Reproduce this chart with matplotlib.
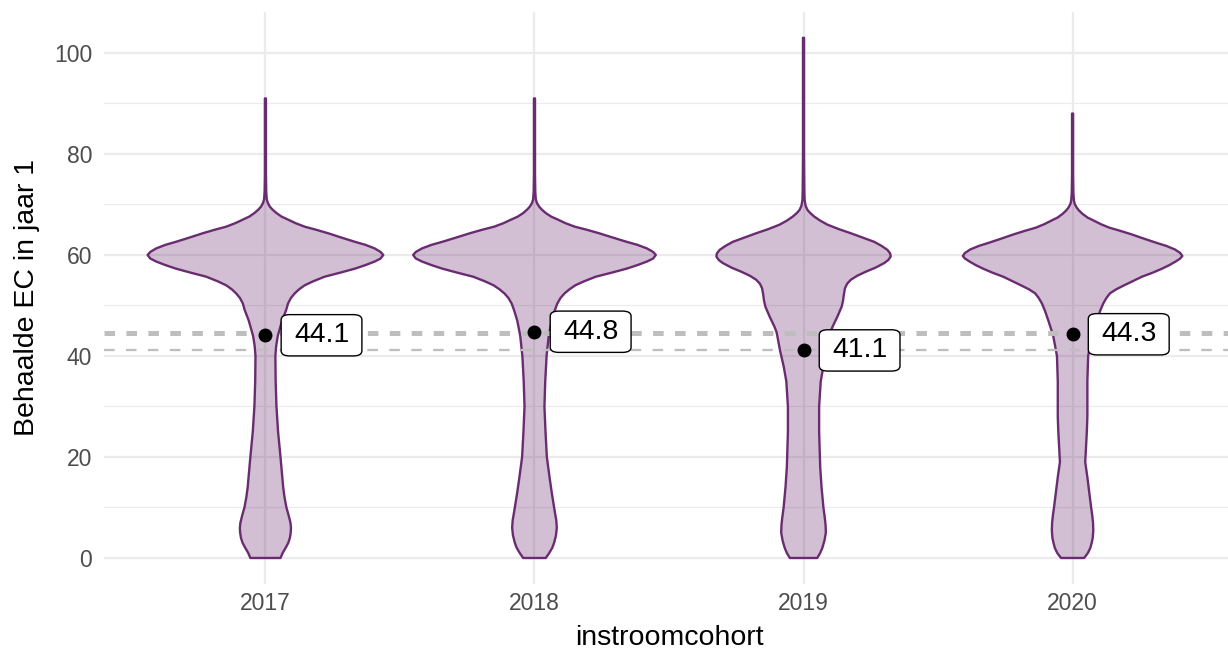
import matplotlib
matplotlib.use("Agg")
import matplotlib.pyplot as plt
from matplotlib.ticker import MultipleLocator

plt.rcParams['font.family'] = ['Liberation Sans', 'DejaVu Sans']
plt.rcParams['lines.scale_dashes'] = False

cohorts = ['2017', '2018', '2019', '2020']
means = [44.1, 44.8, 41.1, 44.3]
line_high = 44.5
line_low = 41.2

# violin outlines: y value -> half width (category units)
y_2017 = [0, 1, 2, 3, 4, 5, 6, 7, 8.5, 10, 12, 14, 17, 20, 25, 30, 35, 40, 42, 44, 47, 49.1,
          50.4, 51.5, 52.4, 53.2, 54, 54.8, 55.7, 56.5, 57.3, 58, 58.7, 59.3, 60, 60.6, 61.3,
          62, 62.6, 63.4, 64.3, 65, 65.6, 66.3, 67, 67.6, 68.3, 69, 69.6, 70.3, 71, 72.5, 76, 91]
w_2017 = [0.056, 0.064, 0.075, 0.085, 0.091, 0.094, 0.095, 0.093, 0.086, 0.078, 0.071, 0.066,
          0.061, 0.056, 0.047, 0.041, 0.038, 0.037, 0.040, 0.046, 0.062, 0.077, 0.084, 0.095,
          0.109, 0.125, 0.146, 0.178, 0.22, 0.278, 0.333, 0.372, 0.406, 0.428, 0.438, 0.428,
          0.406, 0.372, 0.333, 0.285, 0.233, 0.188, 0.146, 0.112, 0.084, 0.06, 0.041, 0.026,
          0.016, 0.009, 0.005, 0.003, 0.002, 0.002]

y_2018 = [0, 1, 2, 3, 4.5, 6, 7.5, 9, 11, 13, 16, 20, 25, 30, 35, 40, 44, 47, 49.1, 50.4,
          51.5, 52.4, 53.2, 54, 54.8, 55.7, 56.5, 57.3, 58, 58.7, 59.3, 60, 60.6, 61.3, 62,
          62.6, 63.4, 64.3, 65, 65.6, 66.3, 67, 67.6, 68.3, 69, 69.6, 70.3, 71, 72.5, 76, 91]
w_2018 = [0.042, 0.055, 0.066, 0.073, 0.080, 0.083, 0.081, 0.076, 0.070, 0.064, 0.056, 0.046,
          0.041, 0.037, 0.040, 0.045, 0.053, 0.064, 0.076, 0.085, 0.097, 0.112, 0.13, 0.152,
          0.185, 0.228, 0.287, 0.343, 0.383, 0.418, 0.441, 0.451, 0.441, 0.418, 0.383, 0.343,
          0.294, 0.24, 0.194, 0.15, 0.115, 0.087, 0.062, 0.042, 0.027, 0.017, 0.009, 0.005,
          0.003, 0.002, 0.002]

y_2019 = [0, 1, 2, 3.5, 5, 6.5, 8, 10, 14, 18, 25, 30, 35, 38, 41, 44.7, 45.8, 47.8, 49.8,
          51, 52.2, 53.4, 54.3, 55.1, 55.9, 56.7, 57.5, 58.4, 59, 59.7, 60.3, 61, 61.8, 62.6,
          63.4, 64.3, 65.1, 66, 66.8, 67.6, 68.3, 68.9, 69.7, 70.9, 73, 80, 103]
w_2019 = [0.051, 0.062, 0.070, 0.078, 0.083, 0.082, 0.079, 0.074, 0.067, 0.062, 0.058, 0.058,
          0.064, 0.074, 0.087, 0.10, 0.108, 0.126, 0.142, 0.147, 0.15, 0.154, 0.162, 0.176,
          0.2, 0.232, 0.268, 0.3, 0.315, 0.324, 0.322, 0.312, 0.29, 0.263, 0.222, 0.176, 0.132,
          0.089, 0.062, 0.04, 0.025, 0.015, 0.008, 0.004, 0.003, 0.002, 0.002]

y_2020 = [0, 1, 2, 3, 4, 5.5, 7, 8.5, 10, 13, 16, 19, 22, 25, 28, 31, 35, 40, 44, 47, 49,
          50.4, 51.5, 52.4, 53.2, 54, 54.8, 55.7, 56.5, 57.3, 58, 58.7, 59.3, 59.8, 60.4, 61.1,
          61.8, 62.4, 63.2, 64.1, 64.8, 65.4, 66.1, 66.8, 67.4, 68.1, 68.8, 69.4, 70.1, 70.8,
          72.3, 76, 88]
w_2020 = [0.043, 0.057, 0.066, 0.071, 0.075, 0.077, 0.076, 0.073, 0.069, 0.062, 0.055, 0.047,
          0.050, 0.053, 0.055, 0.055, 0.055, 0.058, 0.072, 0.090, 0.103, 0.114, 0.126, 0.139,
          0.162, 0.192, 0.223, 0.258, 0.298, 0.333, 0.36, 0.383, 0.4, 0.408, 0.4, 0.38, 0.348,
          0.312, 0.267, 0.218, 0.176, 0.137, 0.105, 0.079, 0.056, 0.038, 0.024, 0.015, 0.008,
          0.005, 0.003, 0.002, 0.002]

violins = [(y_2017, w_2017), (y_2018, w_2018), (y_2019, w_2019), (y_2020, w_2020)]

purple = '#6a2c70'

fig = plt.figure(figsize=(12.28, 6.49), dpi=100)
ax = fig.add_axes([104 / 1228, 65 / 649, 1130 / 1228, 572.2 / 649])

for i, (ys, ws) in enumerate(violins):
    xs = [i - w for w in ws] + [i + w for w in ws[::-1]]
    yy = list(ys) + list(ys[::-1])
    ax.fill(xs, yy, facecolor=purple, alpha=0.3, edgecolor='none', zorder=2)
    ax.fill(xs, yy, facecolor='none', edgecolor=purple, lw=1.7, joinstyle='round', zorder=3)

ax.axhline(line_high, color='#bebebe', lw=3.6, dashes=(7.6, 8.2), zorder=4)
ax.axhline(line_low, color='#bebebe', lw=1.65, dashes=(7.6, 8.2), zorder=4)

for i, m in enumerate(means):
    ax.plot(i, m, 'o', color='black', ms=9, zorder=5)
    ax.annotate(f'{m:.1f}', (i, m), xytext=(20.5, 0), textcoords='offset points',
                ha='left', va='center', fontsize=20.4, color='black', zorder=6,
                bbox=dict(boxstyle='round,pad=0.45,rounding_size=0.3', fc='white',
                          ec='black', lw=1, mutation_aspect=0.6))

ax.set_xlim(-0.6, 3.6)
ax.set_ylim(-5.15, 108.15)
ax.set_xticks(range(len(cohorts)))
ax.set_xticklabels(cohorts)
ax.set_yticks([0, 20, 40, 60, 80, 100])
ax.yaxis.set_minor_locator(MultipleLocator(10))

ax.set_axisbelow(True)
ax.grid(True, which='major', color='#ebebeb', lw=1.6)
ax.grid(True, which='minor', axis='y', color='#ebebeb', lw=0.8)
for s in ax.spines.values():
    s.set_visible(False)
ax.tick_params(which='both', length=0)
ax.tick_params(axis='x', pad=6, labelsize=16.5, labelcolor='#4d4d4d')
ax.tick_params(axis='y', pad=8.5, labelsize=16.5, labelcolor='#4d4d4d')

fig.text(27 / 1228, 1 - 298 / 649, 'Behaalde EC in jaar 1', rotation=90,
         ha='center', va='center', fontsize=20.5)
fig.text(669 / 1228, 4 / 649, 'instroomcohort', ha='center', va='baseline', fontsize=20.5)

fig.savefig('out.png', dpi=100)
